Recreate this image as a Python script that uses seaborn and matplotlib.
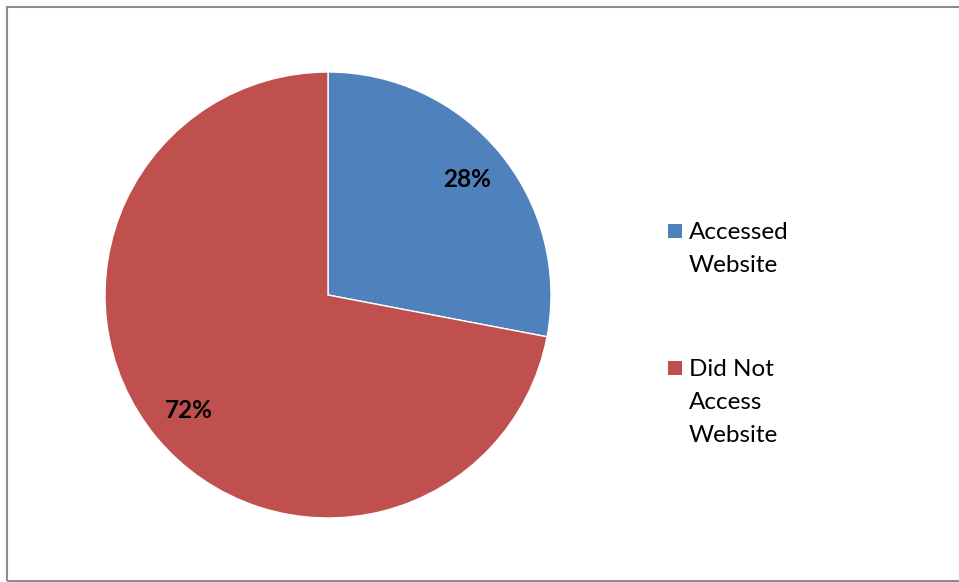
import matplotlib
matplotlib.use("Agg")
import matplotlib.pyplot as plt
from matplotlib.patches import Rectangle
import seaborn as sns

categories = ["Accessed\nWebsite", "Did Not\nAccess\nWebsite"]
shares = [28, 72]
colors = ["#4F81BD", "#C0504D"]

sns.set_style("white")
plt.rcParams["font.family"] = ["Lato", "DejaVu Sans"]

W, H = 959, 582
fig = plt.figure(figsize=(W / 100, H / 100), dpi=100)

# square axes holding the pie (pixel box converted to figure fractions)
cx, cy, r = 328, 295, 223
ax = fig.add_axes([(cx - r) / W, (H - cy - r) / H, 2 * r / W, 2 * r / H])
wedges, texts, autotexts = ax.pie(
    shares,
    colors=colors,
    startangle=90,
    counterclock=False,
    autopct=lambda p: f"{p:.0f}%",
    pctdistance=0.81,
    textprops=dict(fontsize=17.5, fontweight="bold", color="black"),
)
ax.set_xlim(-1, 1)
ax.set_ylim(-1, 1)
ax.set_aspect("equal")
ax.axis("off")

# legend: square swatch aligned with the first line of each label,
# one text row per label line with a fixed pixel pitch
legend_baselines = [239, 376]
line_pitch = 33
for label, col, y in zip(categories, colors, legend_baselines):
    fig.patches.append(Rectangle((668 / W, (H - y + 1) / H), 14 / W, 14 / H,
                                 transform=fig.transFigure, facecolor=col,
                                 edgecolor="none"))
    for i, line in enumerate(label.split("\n")):
        fig.text(689 / W, (H - y - i * line_pitch) / H, line, fontsize=17.5,
                 va="baseline", ha="left", color="black")

# chart frame
fig.patches.append(Rectangle((6.5 / W, 1.5 / H), 1.0, (H - 8) / H,
                             transform=fig.transFigure, fill=False,
                             edgecolor="#8c8c8c", linewidth=1.5))

fig.savefig("out.png", dpi=100)
